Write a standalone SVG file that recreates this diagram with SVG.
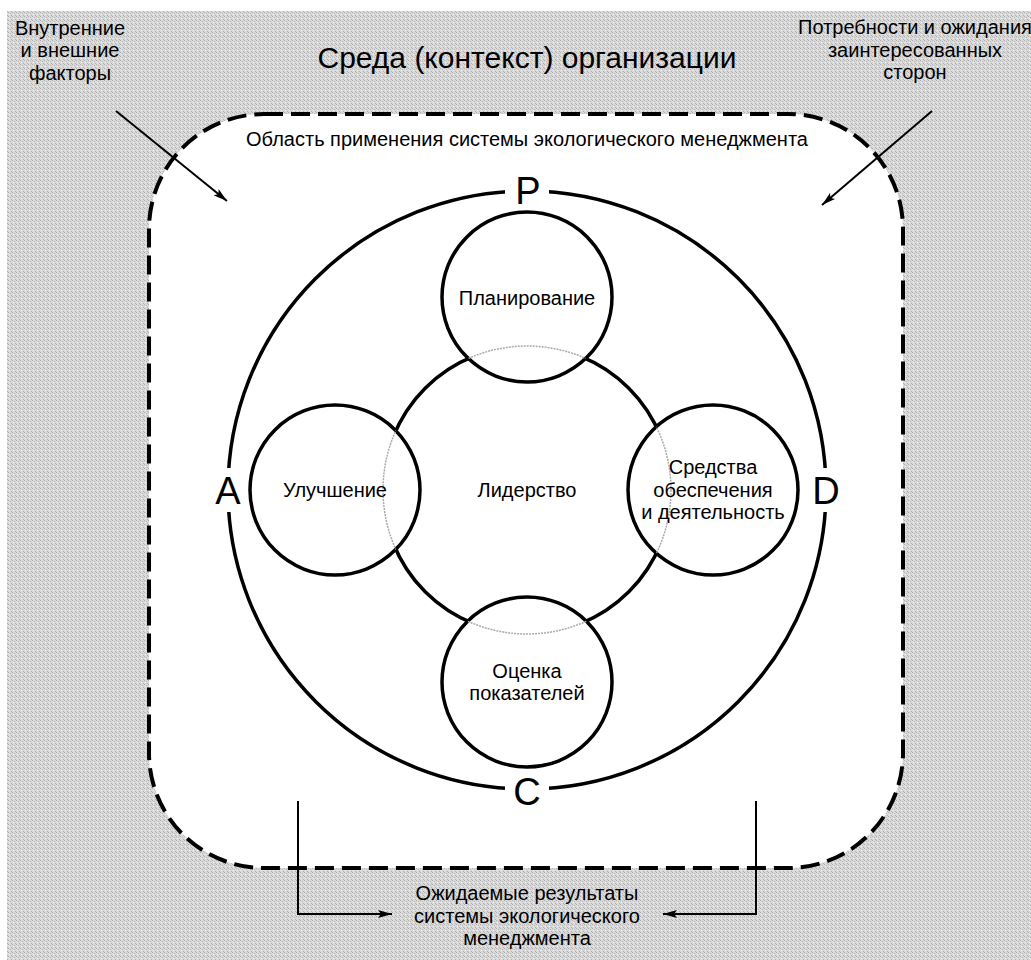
<svg xmlns="http://www.w3.org/2000/svg" width="1031" height="960" viewBox="0 0 1031 960">
<defs>
<pattern id="dither" width="4" height="4" patternUnits="userSpaceOnUse">
<rect width="4" height="4" fill="#d9d9d9"/>
<rect x="0" y="0" width="1" height="1" fill="#b0b0b0"/>
<rect x="2" y="1" width="1" height="1" fill="#b8b8b8"/>
<rect x="1" y="2" width="1" height="1" fill="#eeeeee"/>
<rect x="3" y="3" width="1" height="1" fill="#b0b0b0"/>
</pattern>
<marker id="arr" viewBox="0 0 14 8" refX="14" refY="4" markerWidth="14" markerHeight="8" markerUnits="userSpaceOnUse" orient="auto">
<path d="M0,0 L14,4 L0,8 L3,4 Z" fill="#000"/>
</marker>
<clipPath id="smallClip">
<circle cx="527" cy="297" r="85"/>
<circle cx="335" cy="490" r="85"/>
<circle cx="713" cy="490" r="85"/>
<circle cx="527" cy="682" r="85"/>
</clipPath>
</defs>
<style>
text{font-family:"Liberation Sans",Arial,sans-serif;fill:#000;text-anchor:middle}
.lbl{font-size:20px}
.big{font-size:38px}
.title{font-size:30px}
.thick{fill:none;stroke:#000;stroke-width:3.5}
.small{fill:#fff;stroke:#000;stroke-width:3.5}
.conn{fill:none;stroke:#000;stroke-width:2}
</style>
<rect x="0" y="0" width="1031" height="960" fill="#fff"/>
<rect x="7" y="11" width="1024" height="949" fill="url(#dither)"/>
<g id="scope">
<rect x="149" y="114" width="754" height="754" rx="115" ry="115" fill="#fff" stroke="#000" stroke-width="4" stroke-dasharray="19 8"/>
<text class="lbl" x="527" y="146">Область применения системы экологического менеджмента</text>
</g>
<g id="pdca">
<circle class="thick" cx="527" cy="490" r="299"/>
<rect x="505" y="170" width="44" height="38" fill="#fff"/>
<rect x="806" y="468" width="40" height="44" fill="#fff"/>
<rect x="208" y="468" width="40" height="44" fill="#fff"/>
<rect x="505" y="772" width="44" height="38" fill="#fff"/>
<text class="big" x="528" y="204">P</text>
<text class="big" x="826" y="504">D</text>
<text class="big" x="228" y="504">A</text>
<text class="big" x="527" y="805">C</text>
</g>
<g id="leadership">
<circle class="thick" cx="527" cy="490" r="144"/>
<text class="lbl" x="527" y="497">Лидерство</text>
</g>
<g id="planning">
<circle class="small" cx="527" cy="297" r="85"/>
</g>
<g id="improvement">
<circle class="small" cx="335" cy="490" r="85"/>
</g>
<g id="support">
<circle class="small" cx="713" cy="490" r="85"/>
</g>
<g id="evaluation">
<circle class="small" cx="527" cy="682" r="85"/>
</g>
<circle cx="527" cy="490" r="144" fill="none" stroke="#aaa" stroke-width="1.5" stroke-dasharray="2 1" clip-path="url(#smallClip)"/>
<g id="labels">
<text class="lbl" x="527" y="305">Планирование</text>
<text class="lbl" x="335" y="497">Улучшение</text>
<text class="lbl" x="713" y="474">Средства</text>
<text class="lbl" x="713" y="497">обеспечения</text>
<text class="lbl" x="713" y="519">и деятельность</text>
<text class="lbl" x="527" y="678">Оценка</text>
<text class="lbl" x="527" y="700">показателей</text>
</g>
<g id="context">
<text class="title" x="527" y="68">Среда (контекст) организации</text>
</g>
<g id="factors">
<text class="lbl" x="70" y="35">Внутренние</text>
<text class="lbl" x="70" y="57">и внешние</text>
<text class="lbl" x="70" y="80">факторы</text>
</g>
<g id="stakeholders">
<text class="lbl" x="915" y="34">Потребности и ожидания</text>
<text class="lbl" x="915" y="57">заинтересованных</text>
<text class="lbl" x="915" y="79">сторон</text>
</g>
<g id="outcomes">
<text class="lbl" x="527" y="900">Ожидаемые результаты</text>
<text class="lbl" x="527" y="923">системы экологического</text>
<text class="lbl" x="527" y="945">менеджмента</text>
</g>
<g id="connectors">
<line class="conn" x1="116" y1="111" x2="227" y2="201" marker-end="url(#arr)"/>
<line class="conn" x1="932" y1="111" x2="822" y2="205" marker-end="url(#arr)"/>
<polyline class="conn" points="298,801 298,914 392,914" marker-end="url(#arr)"/>
<polyline class="conn" points="756,801 756,914 663,914" marker-end="url(#arr)"/>
</g>
</svg>
